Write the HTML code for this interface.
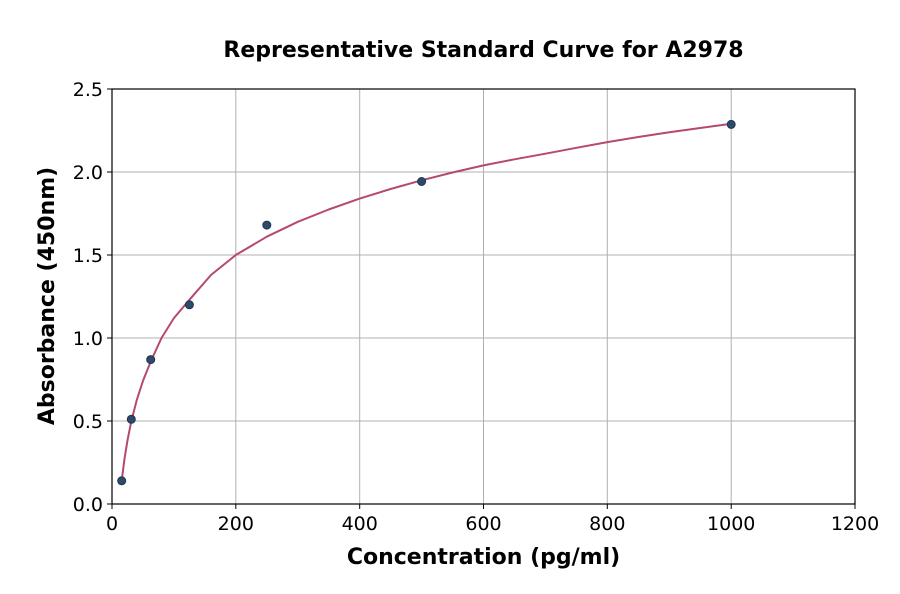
<!DOCTYPE html>
<html><head><meta charset="utf-8"><style>body{margin:0;background:#fff}svg{display:block;font-family:"DejaVu Sans","Liberation Sans",sans-serif}</style></head>
<body><svg width="900" height="594" xmlns="http://www.w3.org/2000/svg">
<rect width="900" height="594" fill="#fff"/>
<g stroke="#b0b0b0" stroke-width="1">
<line x1="235.8" y1="89" x2="235.8" y2="504"/><line x1="359.7" y1="89" x2="359.7" y2="504"/><line x1="483.5" y1="89" x2="483.5" y2="504"/><line x1="607.3" y1="89" x2="607.3" y2="504"/><line x1="731.2" y1="89" x2="731.2" y2="504"/>
<line x1="112" y1="421" x2="855" y2="421"/><line x1="112" y1="338" x2="855" y2="338"/><line x1="112" y1="255" x2="855" y2="255"/><line x1="112" y1="172" x2="855" y2="172"/>
</g>
<polyline fill="none" stroke="#b5496f" stroke-width="2" stroke-linejoin="round" points="121.7,480.8 124.4,459.5 127.5,440.3 131.3,421.2 136.8,399.9 143,380.8 150.7,361.6 161.5,338 173.9,318.1 189.4,299.8 211.1,274.9 235.8,255 266.8,236.7 297.8,221.8 328.7,209.5 359.7,198.6 390.6,189 421.6,180.3 452.5,172.5 483.5,165.4 514.5,159.3 545.4,153.7 576.4,147.8 607.4,142.1 638.3,137 669.3,132.2 700.2,128 731.2,123.7"/>
<g fill="#2e4a6b" stroke="#1f3550" stroke-width="1">
<circle cx="121.7" cy="480.8" r="4"/><circle cx="131.3" cy="419.3" r="4"/><circle cx="150.7" cy="359.6" r="4"/><circle cx="189.4" cy="304.8" r="4"/><circle cx="266.8" cy="225.1" r="4"/><circle cx="421.6" cy="181.5" r="4"/><circle cx="731.2" cy="124.4" r="4"/>
</g>
<rect x="112" y="89" width="743" height="415" fill="none" stroke="#000" stroke-width="1.2"/>
<g stroke="#000" stroke-width="1">
<line x1="112" y1="504" x2="112" y2="509"/><line x1="235.8" y1="504" x2="235.8" y2="509"/><line x1="359.7" y1="504" x2="359.7" y2="509"/><line x1="483.5" y1="504" x2="483.5" y2="509"/><line x1="607.3" y1="504" x2="607.3" y2="509"/><line x1="731.2" y1="504" x2="731.2" y2="509"/><line x1="855" y1="504" x2="855" y2="509"/>
<line x1="107" y1="504" x2="112" y2="504"/><line x1="107" y1="421" x2="112" y2="421"/><line x1="107" y1="338" x2="112" y2="338"/><line x1="107" y1="255" x2="112" y2="255"/><line x1="107" y1="172" x2="112" y2="172"/><line x1="107" y1="89" x2="112" y2="89"/>
</g>
<g font-size="19" fill="#000" text-anchor="middle">
<text x="112" y="530">0</text><text x="235.8" y="530">200</text><text x="359.7" y="530">400</text><text x="483.5" y="530">600</text><text x="607.3" y="530">800</text><text x="731.2" y="530">1000</text><text x="855" y="530">1200</text>
</g>
<g font-size="19" fill="#000" text-anchor="end">
<text x="103" y="511">0.0</text><text x="103" y="428">0.5</text><text x="103" y="345">1.0</text><text x="103" y="262">1.5</text><text x="103" y="179">2.0</text><text x="103" y="96">2.5</text>
</g>
<text x="483.5" y="564" font-size="22" font-weight="bold" text-anchor="middle">Concentration (pg/ml)</text>
<text transform="translate(54,296) rotate(-90)" font-size="22" font-weight="bold" text-anchor="middle">Absorbance (450nm)</text>
<text x="483.5" y="57" font-size="22" font-weight="bold" text-anchor="middle">Representative Standard Curve for A2978</text>
</svg></body></html>
